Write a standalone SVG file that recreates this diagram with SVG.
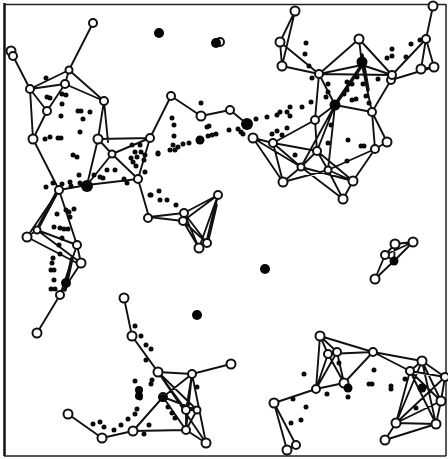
<svg xmlns="http://www.w3.org/2000/svg" width="448" height="459" viewBox="0 0 448 459">
<style>
.e{stroke:#111;stroke-width:1.9;fill:none;stroke-linecap:round}
.h{stroke:#111;stroke-width:3.500;fill:none;stroke-linecap:round}
.n circle{fill:#fff;stroke:#111;stroke-width:2}
.b circle{fill:#050505;stroke:none}
#dots path{stroke:#0a0a0a;stroke-width:5;stroke-linecap:round;fill:none}
</style>
<rect width="448" height="459" fill="#fff"/>
<path d="M4.500 3V456" stroke="#111" stroke-width="2.500" fill="none"/>
<path d="M4 4.500H446M4 456H446M446 4V456" stroke="#222" stroke-width="1.500" fill="none"/>
<g id="connectors">
<path class="e" d="M93 23L69 70M30 89L69 70M30 89L65 84M30 89L47 111M30 89L33 139M30 89L13 56M69 70L65 84M69 70L104 101M65 84L104 101M65 84L47 111M47 111L33 139M33 139L59 190M104 101L98 139M104 101L108 142M98 139L150 138M98 139L112 154M98 139L87 185M150 138L112 154M112 154L87 185M112 154L138 179M87 185L138 179M87 185L59 190M150 138L138 179M138 179L149 217M150 138L171 96M171 96L201 116M201 116L230 110M230 110L247 124M149 217L184 213M149 217L183 221"/>
<path class="e" d="M184 213L218 195M183 221L218 195M184 213L199 248M184 213L207 243M183 221L199 248M183 221L207 243M218 195L207 243M218 195L199 248M199 248L207 243M184 213L183 221"/>
<path class="e" d="M59 190L27 237M59 190L37 230M59 190L77 245M27 237L37 230M27 237L77 263M37 230L77 245M37 230L81 263M77 245L81 263M77 245L60 295M81 263L60 295M60 295L37 333M124 298L132 336L158 372L192 374L231 364"/>
<path class="h" d="M57 192L37 230M72 258L65 290M335 105L362 65M362 55L368 90M207 243L216 205"/>
<path class="e" d="M295 11L280 42M295 11L282 66M280 42L282 66M280 42L319 74M282 66L319 74M319 74L359 39M319 74L362 65M319 74L392 75M359 39L392 75M359 39L362 65M362 65L392 75M362 65L372 112M391 80L372 112M392 75L426 39M391 80L434 67M426 39L433 6M426 39L421 69M426 39L434 67M421 69L434 67M372 112L387 142M372 112L375 149M372 112L335 105M387 142L375 149M375 149L353 181M375 149L328 170M319 74L315 120M319 74L335 105M315 120L335 105M315 120L317 151M335 105L317 151M335 105L301 167M315 120L273 143M253 138L273 143M253 138L283 182M253 138L301 167M273 143L283 182M273 143L301 167M273 143L317 151M283 182L301 167M283 182L328 170M301 167L317 151M301 167L353 181M301 167L343 199M317 151L353 181M317 151L328 170M328 170L353 181M328 170L343 199M343 199L353 181M335 105L328 170"/>
<path class="e" d="M375 279L385 255M375 279L394 261M385 255L395 244M395 244L413 242M385 255L413 242M394 261L413 242M395 244L394 261M385 255L394 261"/>
<path class="e" d="M158 372L186 410M158 372L206 443M158 372L197 410M163 397L192 374M163 397L133 431M133 431L186 430M133 431L102 438M102 438L68 414M192 374L186 410M192 374L206 443M192 374L186 430M163 397L186 430M163 397L197 410M186 430L206 443M186 410L197 410M186 410L186 430M197 410L186 430"/>
<path class="e" d="M320 336L328 354M320 336L337 352M320 336L373 352M320 336L316 389M328 354L337 352M328 354L373 352M328 354L316 389M337 352L316 389M328 354L344 383M337 352L344 383M316 389L344 383M373 352L344 383M373 352L422 361M373 352L410 371M316 389L274 403M274 403L296 445M274 403L287 450M296 445L287 450M422 361L410 371M422 361L445 377M422 361L441 401M422 361L436 424M422 361L396 423M410 371L445 377M410 371L441 401M410 371L436 424M410 371L396 423M445 377L441 401M445 377L396 423M441 401L436 424M441 401L396 423M396 423L436 424M396 423L385 440M385 440L436 424"/>
</g>
<g id="dots">
<path d="M46 78h.01M50 98h.01M47 97h.01M62 104h.01M61 116h.01M78 111h.01M81 111h.01M90 112h.01M83 119h.01M80 132h.01M45 139h.01M50 137h.01M58 138h.01M61 138h.01M62 94h.01M66 95h.01M46 187h.01M53 183h.01M62 184h.01M70 182h.01M71 186h.01M80 183h.01M73 155h.01M77 157h.01M79 175h.01M94 175h.01M107 170h.01M115 170h.01M103 178h.01M100 177h.01M124 179h.01M127 183h.01M137 157h.01M133 162h.01M145 172h.01M150 195h.01M57 214h.01M66 210h.01M74 209h.01M70 217h.01M69 212h.01M68 229h.01M54 227h.01M60 228h.01M64 229h.01M62 238h.01M59 245h.01M60 254h.01M53 258h.01M52 263h.01M54 270h.01M51 270h.01M54 280h.01M51 289h.01M55 289h.01M132 145h.01M140 145h.01M135 152h.01M141 152h.01M131 158h.01M145 155h.01M158 153h.01M136 166h.01"/>
<path d="M201 103h.01M172 118h.01M174 125h.01M174 136h.01M173 145h.01M175 150h.01M178 147h.01M170 150h.01M158 154h.01M144 160h.01M189 143h.01M183 144h.01M207 127h.01M209 126h.01M208 136h.01M212 135h.01M216 134h.01M229 130h.01M238 129h.01M241 132h.01M151 195h.01M159 191h.01M160 200h.01M167 200h.01M176 205h.01"/>
<path d="M306 43h.01M305 54h.01M309 66h.01M312 78h.01M328 84h.01M328 92h.01M326 97h.01M344 94h.01M347 90h.01M356 99h.01M352 100h.01M311 102h.01M302 107h.01M287 112h.01M290 107h.01M290 116h.01M280 112h.01M277 115h.01M267 117h.01M256 119h.01M287 128h.01M272 134h.01M277 131h.01M282 135h.01M243 134h.01M295 155h.01M328 143h.01M348 140h.01M361 146h.01M364 146h.01M347 161h.01M331 125h.01M378 79h.01M392 49h.01M387 58h.01M392 56h.01M406 57h.01M411 44h.01M420 40h.01M369 103h.01M366 96h.01M363 84h.01M357 77h.01M352 84h.01M347 82h.01"/>
<path d="M135 326h.01M141 336h.01M146 345h.01M151 349h.01M146 360h.01M135 381h.01M152 380h.01M151 384h.01M137 409h.01M135 414h.01M128 419h.01M121 425h.01M114 430h.01M93 424h.01M100 422h.01M104 427h.01M149 425h.01M144 434h.01M197 387h.01M168 407h.01M172 413h.01M175 418h.01M140 398h.01"/>
<path d="M304 374h.01M339 363h.01M374 370h.01M372 384h.01M369 384h.01M391 386h.01M391 389h.01M348 397h.01M327 394h.01M293 399h.01M306 407h.01M301 420h.01M291 423h.01M416 408h.01M405 379h.01"/>
</g>
<g id="n1" class="n"><circle cx="93" cy="23" r="4"/></g>
<g id="n2" class="n"><circle cx="11" cy="51" r="4.500"/></g>
<g id="n3" class="n"><circle cx="13" cy="56" r="4"/></g>
<g id="n4" class="n"><circle cx="69" cy="70" r="3.500"/></g>
<g id="n5" class="n"><circle cx="30" cy="89" r="4"/></g>
<g id="n6" class="n"><circle cx="65" cy="84" r="4"/></g>
<g id="n7" class="n"><circle cx="47" cy="111" r="4"/></g>
<g id="n8" class="n"><circle cx="104" cy="101" r="4"/></g>
<g id="n9" class="n"><circle cx="33" cy="139" r="4.500"/></g>
<g id="n10" class="n"><circle cx="98" cy="139" r="4.500"/></g>
<g id="n11" class="n"><circle cx="150" cy="138" r="4"/></g>
<g id="n12" class="n"><circle cx="112" cy="154" r="3.500"/></g>
<g id="n13" class="n"><circle cx="138" cy="179" r="4"/></g>
<g id="n14" class="n"><circle cx="59" cy="190" r="4"/></g>
<g id="n15" class="n"><circle cx="148" cy="218" r="4"/></g>
<g id="n16" class="n"><circle cx="171" cy="96" r="4"/></g>
<g id="n17" class="n"><circle cx="201" cy="116" r="4.500"/></g>
<g id="n18" class="n"><circle cx="230" cy="110" r="4"/></g>
<g id="n19" class="n"><circle cx="184" cy="213" r="4"/></g>
<g id="n20" class="n"><circle cx="183" cy="221" r="4"/></g>
<g id="n21" class="n"><circle cx="218" cy="195" r="4"/></g>
<g id="n22" class="n"><circle cx="199" cy="248" r="4.500"/></g>
<g id="n23" class="n"><circle cx="207" cy="243" r="4"/></g>
<g id="n24" class="n"><circle cx="27" cy="237" r="4.500"/></g>
<g id="n25" class="n"><circle cx="37" cy="230" r="3.500"/></g>
<g id="n26" class="n"><circle cx="77" cy="245" r="4"/></g>
<g id="n27" class="n"><circle cx="81" cy="263" r="4.500"/></g>
<g id="n28" class="n"><circle cx="60" cy="295" r="4"/></g>
<g id="n29" class="n"><circle cx="37" cy="333" r="4.500"/></g>
<g id="n30" class="n"><circle cx="124" cy="298" r="4.500"/></g>
<g id="n31" class="n"><circle cx="132" cy="336" r="4.500"/></g>
<g id="n32" class="n"><circle cx="158" cy="372" r="4.500"/></g>
<g id="n33" class="n"><circle cx="192" cy="374" r="4"/></g>
<g id="n34" class="n"><circle cx="231" cy="364" r="4.500"/></g>
<g id="n35" class="n"><circle cx="163" cy="397" r="4"/></g>
<g id="n36" class="n"><circle cx="186" cy="410" r="4"/></g>
<g id="n37" class="n"><circle cx="197" cy="410" r="3.500"/></g>
<g id="n38" class="n"><circle cx="186" cy="430" r="4"/></g>
<g id="n39" class="n"><circle cx="206" cy="443" r="4.500"/></g>
<g id="n40" class="n"><circle cx="133" cy="431" r="4.500"/></g>
<g id="n41" class="n"><circle cx="102" cy="438" r="4.500"/></g>
<g id="n42" class="n"><circle cx="68" cy="414" r="4.500"/></g>
<g id="n43" class="n"><circle cx="295" cy="11" r="4.500"/></g>
<g id="n44" class="n"><circle cx="280" cy="42" r="4.500"/></g>
<g id="n45" class="n"><circle cx="282" cy="66" r="4.500"/></g>
<g id="n46" class="n"><circle cx="359" cy="39" r="4.500"/></g>
<g id="n47" class="n"><circle cx="319" cy="74" r="4"/></g>
<g id="n48" class="n"><circle cx="391" cy="80" r="4"/></g>
<g id="n49" class="n"><circle cx="392" cy="75" r="4"/></g>
<g id="n50" class="n"><circle cx="433" cy="6" r="4.500"/></g>
<g id="n51" class="n"><circle cx="426" cy="39" r="4"/></g>
<g id="n52" class="n"><circle cx="421" cy="69" r="4.500"/></g>
<g id="n53" class="n"><circle cx="434" cy="67" r="4.500"/></g>
<g id="n54" class="n"><circle cx="372" cy="112" r="4"/></g>
<g id="n55" class="n"><circle cx="387" cy="142" r="4.500"/></g>
<g id="n56" class="n"><circle cx="375" cy="149" r="4"/></g>
<g id="n57" class="n"><circle cx="253" cy="138" r="4.500"/></g>
<g id="n58" class="n"><circle cx="273" cy="143" r="4"/></g>
<g id="n59" class="n"><circle cx="283" cy="182" r="4.500"/></g>
<g id="n60" class="n"><circle cx="301" cy="167" r="3.500"/></g>
<g id="n61" class="n"><circle cx="317" cy="151" r="4"/></g>
<g id="n62" class="n"><circle cx="315" cy="120" r="4"/></g>
<g id="n63" class="n"><circle cx="353" cy="181" r="4.500"/></g>
<g id="n64" class="n"><circle cx="343" cy="199" r="4.500"/></g>
<g id="n65" class="n"><circle cx="328" cy="170" r="3.500"/></g>
<g id="n66" class="n"><circle cx="375" cy="279" r="4.500"/></g>
<g id="n67" class="n"><circle cx="385" cy="255" r="4"/></g>
<g id="n68" class="n"><circle cx="395" cy="244" r="4.500"/></g>
<g id="n69" class="n"><circle cx="413" cy="242" r="4.500"/></g>
<g id="n70" class="n"><circle cx="320" cy="336" r="4.500"/></g>
<g id="n71" class="n"><circle cx="328" cy="354" r="4"/></g>
<g id="n72" class="n"><circle cx="337" cy="352" r="4"/></g>
<g id="n73" class="n"><circle cx="373" cy="352" r="4"/></g>
<g id="n74" class="n"><circle cx="422" cy="361" r="4.500"/></g>
<g id="n75" class="n"><circle cx="410" cy="371" r="4"/></g>
<g id="n76" class="n"><circle cx="445" cy="377" r="4"/></g>
<g id="n77" class="n"><circle cx="441" cy="401" r="4.500"/></g>
<g id="n78" class="n"><circle cx="436" cy="424" r="4.500"/></g>
<g id="n79" class="n"><circle cx="396" cy="423" r="4.500"/></g>
<g id="n80" class="n"><circle cx="385" cy="440" r="4.500"/></g>
<g id="n81" class="n"><circle cx="344" cy="383" r="4.500"/></g>
<g id="n82" class="n"><circle cx="316" cy="389" r="4"/></g>
<g id="n83" class="n"><circle cx="274" cy="403" r="4.500"/></g>
<g id="n84" class="n"><circle cx="296" cy="445" r="4"/></g>
<g id="n85" class="n"><circle cx="287" cy="450" r="4.500"/></g>
<g id="b1" class="b"><circle cx="159" cy="33" r="5"/></g>
<g id="b2" class="n"><circle cx="220" cy="42" r="4"/></g>
<g id="b3" class="b"><circle cx="216" cy="43" r="5"/></g>
<g id="b4" class="b"><circle cx="265" cy="269" r="5"/></g>
<g id="b5" class="b"><circle cx="197" cy="315" r="5"/></g>
<g id="b6" class="b"><circle cx="87" cy="186" r="6"/></g>
<g id="b7" class="b"><circle cx="247" cy="124" r="6"/></g>
<g id="b8" class="b"><circle cx="200" cy="140" r="4.500"/></g>
<g id="b9" class="b"><circle cx="66" cy="283" r="5"/></g>
<g id="b10" class="b"><circle cx="335" cy="105" r="5.500"/></g>
<g id="b11" class="b"><circle cx="362" cy="62" r="5.500"/></g>
<g id="b12" class="b"><circle cx="394" cy="261" r="4.500"/></g>
<g id="b13" class="b"><circle cx="139" cy="390" r="4"/><circle cx="139" cy="396" r="4"/></g>
<g id="b14" class="b"><circle cx="163" cy="398" r="4"/></g>
<g id="b15" class="b"><circle cx="348" cy="388" r="4.500"/></g>
<g id="b16" class="b"><circle cx="422" cy="388" r="4.500"/></g>
</svg>
